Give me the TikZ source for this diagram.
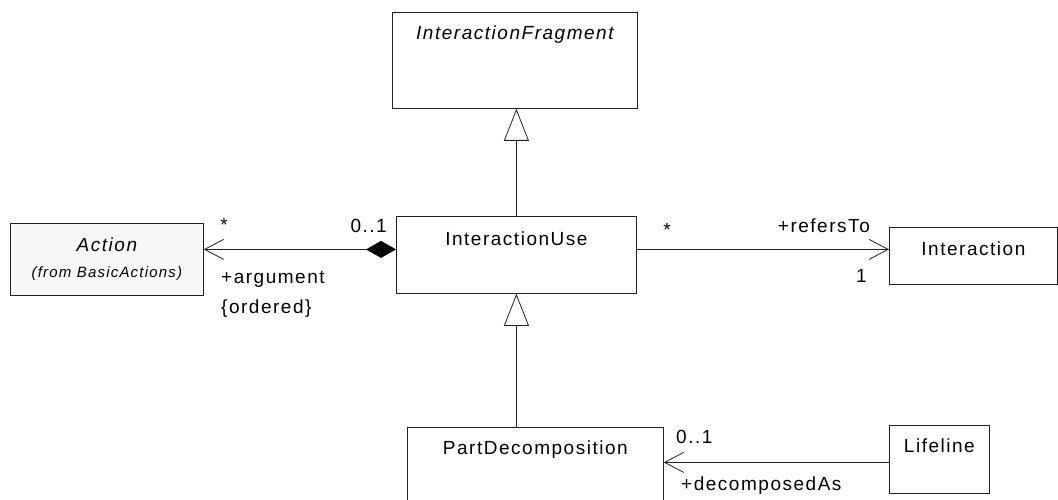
\documentclass[tikz,border=0pt]{standalone}
\usepackage{fontspec}
\setmainfont{Liberation Sans}[LetterSpace=8]
\usepackage{tikz}
\usetikzlibrary{arrows.meta, calc}
\definecolor{umlLine}{HTML}{222222}
\definecolor{umlFill}{HTML}{F8F8F8}

\begin{document}
\begin{tikzpicture}[
    x=1pt, y=-1pt,
    every node/.style={font=\fontsize{19}{22}\selectfont},
    umlclass/.style={
        draw=umlLine, line width=0.8pt, anchor=north west,
        inner xsep=0pt, inner ysep=0pt, fill=white
    },
    assoc/.style={draw=umlLine, line width=0.8pt},
    generalize/.style={assoc, -{Triangle[open, length=32pt, width=25pt]}},
    navigable/.style={assoc, -{Straight Barb[length=19pt, width=20pt]}},
    composite/.style={assoc, {Diamond[length=30pt, width=17pt, color=black, fill=black]}-{Straight Barb[length=19pt, width=20pt]}},
    mult/.style={inner sep=0pt},
]
    \useasboundingbox (0,0) rectangle (1058,500);
    \clip (0,0) rectangle (1058,500);

    \node[umlclass, minimum width=245pt, text height=27pt, text depth=69pt] (frag) at (392,12) {\itshape InteractionFragment};
    \node[umlclass, fill=umlFill, minimum width=193pt, minimum height=72pt, align=center] (action) at (10,223)
        {\itshape Action\\[4pt]{\fontsize{15}{18}\selectfont\itshape (from BasicActions)}};
    \node[umlclass, minimum width=240pt, text height=29pt, text depth=48pt] (use) at (396,216) {InteractionUse};
    \node[umlclass, minimum width=168pt, text height=28pt, text depth=29pt] (inter) at (889,227) {Interaction};
    \node[umlclass, minimum width=256pt, text height=27pt, text depth=53pt] (part) at (407,427) {PartDecomposition};
    \node[umlclass, minimum width=100pt, text height=27pt, text depth=41pt] (life) at (889,425) {Lifeline};

    \draw[generalize] (use.north) -- (use.north |- frag.south);
    \draw[generalize] (use.south |- part.north) -- (use.south);

    \coordinate (argy) at ([yshift=5.5pt]use.west);
    \coordinate (refy) at ([yshift=5.5pt]use.east);
    \coordinate (decy) at ([yshift=-3pt]life.west);
    \draw[composite] (argy) -- (argy -| action.east);
    \draw[navigable] (refy) -- (refy -| inter.west);
    \draw[navigable] (decy) -- (decy -| part.east);

    \node[mult, anchor=base] (argmany) at (224,231) {*};
    \node[mult, anchor=base east] (argone) at (387,233) {0..1};
    \node[mult, anchor=base west] (argrole) at (221,283) {+argument};
    \node[mult, anchor=base west] (argorder) at (221,313) {\{ordered\}};
    \node[mult, anchor=base] (refmany) at (667,236) {*};
    \node[mult, anchor=base east] (refrole) at (870,233) {+refersTo};
    \node[mult, anchor=base east] (refone) at (867,282) {1};
    \node[mult, anchor=base west] (decmult) at (676,443) {0..1};
    \node[mult, anchor=base west] (decrole) at (681,490) {+decomposedAs};
\end{tikzpicture}
\end{document}
